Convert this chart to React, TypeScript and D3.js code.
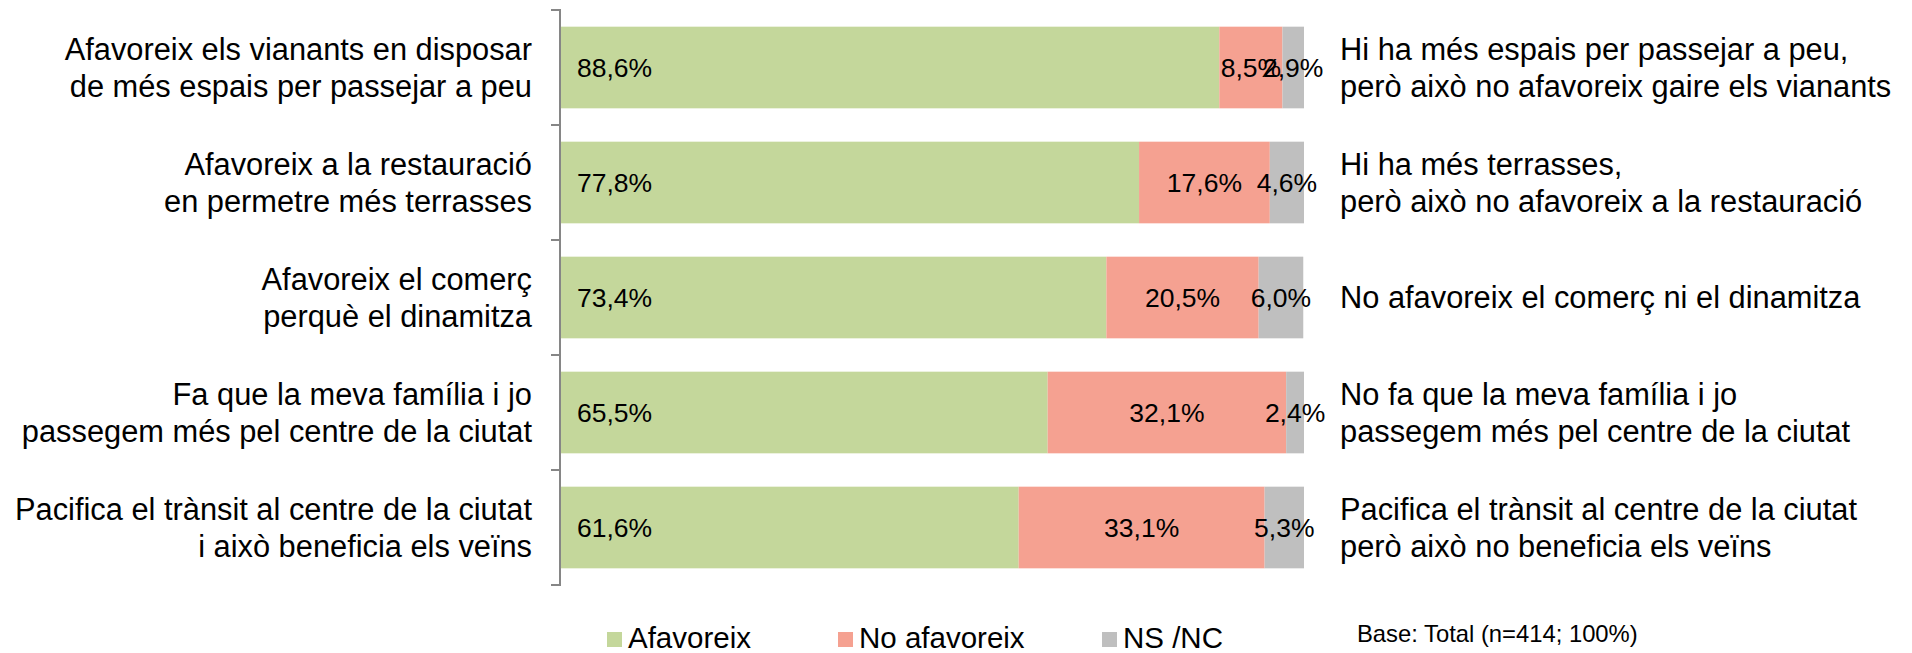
import React from "react";
import * as d3 from "d3";

const leftLabels: string[][] = [
  ["Afavoreix els vianants en disposar", "de més espais per passejar a peu"],
  ["Afavoreix a la restauració", "en permetre més terrasses"],
  ["Afavoreix el comerç", "perquè el dinamitza"],
  ["Fa que la meva família i jo", "passegem més pel centre de la ciutat"],
  ["Pacifica el trànsit al centre de la ciutat", "i això beneficia els veïns"],
];
const rightLabels: string[][] = [
  ["Hi ha més espais per passejar a peu,", "però això no afavoreix gaire els vianants"],
  ["Hi ha més terrasses,", "però això no afavoreix a la restauració"],
  ["No afavoreix el comerç ni el dinamitza"],
  ["No fa que la meva família i jo", "passegem més pel centre de la ciutat"],
  ["Pacifica el trànsit al centre de la ciutat", "però això no beneficia els veïns"],
];
const seriesNames = ["Afavoreix", "No afavoreix", "NS /NC"];
const afavoreix = [88.6, 77.8, 73.4, 65.5, 61.6];
const noAfavoreix = [8.5, 17.6, 20.5, 32.1, 33.1];
const nsnc = [2.9, 4.6, 6.0, 2.4, 5.3];
const baseNote = "Base: Total (n=414; 100%)";

const colors = ["#C4D79B", "#F5A191", "#BFBFBF"];
const FONT = "'Liberation Sans', Arial, sans-serif";

const locale = d3.formatLocale({ decimal: ",", thousands: ".", grouping: [3], currency: ["", "€"] });
const fmt = (v: number) => locale.format(".1f")(v) + "%";

export default function App() {
  const W = 1912, H = 653;
  const ids = leftLabels.map((_, i) => String(i));
  const y = d3.scaleBand<string>().domain(ids).range([10, 585]).paddingInner(0.29).paddingOuter(0.145);
  const x = d3.scaleLinear().domain([0, 100]).range([561, 1304]);
  const rows = ids.map((id, i) => ({ id, a: afavoreix[i], n: noAfavoreix[i], s: nsnc[i] }));
  const stack = d3.stack<any>().keys(["a", "n", "s"])(rows);
  const step = y.step();
  const tickYs = d3.range(ids.length + 1).map((k) => 10 + k * step);
  const lineH = 37;

  const legendX = [607, 838, 1102];

  return (
    <svg width={W} height={H} style={{ position: "absolute", left: 0, top: 0, background: "#fff" }} fontFamily={FONT}>
      {stack.map((layer, si) => (
        <g key={si} fill={colors[si]}>
          {layer.map((d, i) => (
            <rect key={i} x={x(d[0])} y={y(ids[i])!} width={x(d[1]) - x(d[0])} height={y.bandwidth()} />
          ))}
        </g>
      ))}
      {/* value labels */}
      {stack.map((layer, si) =>
        layer.map((d, i) => {
          const cy = y(ids[i])! + y.bandwidth() / 2;
          const v = d[1] - d[0];
          const lx = si === 0 ? x(0) + 16 : (x(d[0]) + x(d[1])) / 2;
          return (
            <text key={`${si}-${i}`} x={lx} y={cy} fontSize={26.5} fill="#000" dominantBaseline="central" textAnchor={si === 0 ? "start" : "middle"}>
              {fmt(Math.round(v * 10) / 10)}
            </text>
          );
        })
      )}
      {/* axis */}
      <line x1={560} x2={560} y1={tickYs[0]} y2={tickYs[tickYs.length - 1]} stroke="#868686" strokeWidth={2} />
      {tickYs.map((t, k) => (
        <line key={k} x1={551} x2={561} y1={t} y2={t} stroke="#868686" strokeWidth={2} />
      ))}
      {/* left labels */}
      {leftLabels.map((lines, i) => {
        const cy = y(ids[i])! + y.bandwidth() / 2;
        return (
          <text key={i} fontSize={30.8} fill="#000" textAnchor="end">
            {lines.map((l, j) => (
              <tspan key={j} x={532} y={cy + (j - (lines.length - 1) / 2) * lineH} dominantBaseline="central">{l}</tspan>
            ))}
          </text>
        );
      })}
      {/* right labels */}
      {rightLabels.map((lines, i) => {
        const cy = y(ids[i])! + y.bandwidth() / 2;
        return (
          <text key={i} fontSize={30.8} fill="#000" textAnchor="start">
            {lines.map((l, j) => (
              <tspan key={j} x={1340} y={cy + (j - (lines.length - 1) / 2) * lineH} dominantBaseline="central">{l}</tspan>
            ))}
          </text>
        );
      })}
      {/* legend */}
      {seriesNames.map((n, i) => (
        <g key={n}>
          <rect x={legendX[i]} y={632} width={15} height={15} fill={colors[i]} />
          <text x={legendX[i] + 21} y={648} fontSize={29.5} fill="#000">{n}</text>
        </g>
      ))}
      <text x={1357} y={642} fontSize={23.8} fill="#000">{baseNote}</text>
    </svg>
  );
}
